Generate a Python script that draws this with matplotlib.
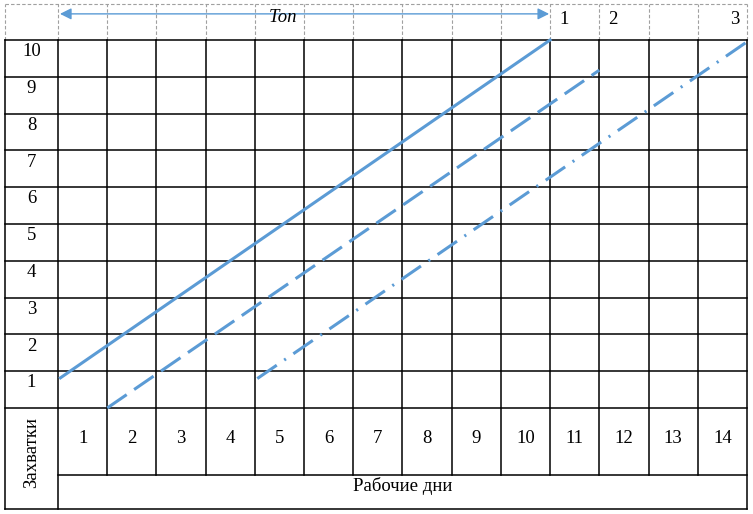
import matplotlib.pyplot as plt

# Data: grid of rows (захватки) and working days, three flow lines
rows = list(range(1, 11))
days = list(range(1, 15))
top_labels = ['1', '2', '3']
top_label_x = [10.28, 11.28, 13.76]

line1_x = [0.05, 10.0]
line1_y = [0.82, 10.0]
line2_x = [1.0, 11.0]
line2_y = [0.0, 9.18]
line3_x = [4.05, 14.0]
line3_y = [0.80, 9.95]

blue = '#5B9BD5'
plt.rcParams['font.family'] = ['Liberation Serif', 'DejaVu Serif']
plt.rcParams['lines.scale_dashes'] = False

fig = plt.figure(figsize=(7.53, 5.14), dpi=100)
ax = fig.add_axes([0, 0, 1, 1])
ax.axis('off')

# pixel layout -> data units (1 day = 49.21 px, 1 row = 36.8 px)
cw, rh = 49.21, 36.8
ax.set_xlim(-58 / cw, (753 - 58) / cw)
ax.set_ylim(-(514 - 408) / rh, 408 / rh)

left = -53 / cw
top = 404 / rh
day_bot = -67 / rh
bottom = -101 / rh

kw = dict(color='black', lw=1.1, zorder=2)
# horizontal grid lines
for r in range(0, 11):
    ax.plot([left, 14], [r, r], **kw)
ax.plot([0, 14], [day_bot, day_bot], **kw)
ax.plot([left, 14], [bottom, bottom], **kw)
# vertical grid lines
for d in range(0, 15):
    y0 = bottom if d in (0, 14) else day_bot
    ax.plot([d, d], [y0, 10], **kw)
ax.plot([left, left], [bottom, 10], **kw)

# dashed header
hk = dict(color='#a0a0a0', lw=0.8, ls=(0, (2.5, 1.5)), zorder=1)
ax.plot([left, 14], [top, top], **hk)
for d in [left] + list(range(0, 15)):
    ax.plot([d, d], [10, top], **hk)

fs = 13.5
for r in rows:
    ax.text((left + 0) / 2, r - 0.32, str(r), ha='center', va='center', fontsize=fs)
for d in days:
    ax.text(d - 0.5, -0.82, str(d), ha='center', va='center', fontsize=fs)
ax.text(7.01, -2.12, 'Рабочие дни', ha='center', va='center', fontsize=fs)
ax.text((left + 0) / 2, -1.2, 'Захватки', ha='center', va='center',
        rotation=90, fontsize=fs)
for lab, x in zip(top_labels, top_label_x):
    ax.text(x, 10.57, lab, ha='center', va='center', fontsize=fs)

# Топ arrow
ax.annotate('', xy=(0.04, 10.71), xytext=(9.98, 10.71),
            arrowprops=dict(arrowstyle='<|-|>', color=blue, lw=1.0,
                            mutation_scale=17, shrinkA=0, shrinkB=0))
ax.text(4.57, 10.6, 'Топ', ha='center', va='center', fontsize=fs,
        style='italic')

# flow lines
ax.plot(line1_x, line1_y, color=blue, lw=2.2, zorder=3)
ax.plot(line2_x, line2_y, color=blue, lw=2.2, zorder=3,
        ls=(0, (17, 6.5)))
ax.plot(line3_x, line3_y, color=blue, lw=2.2, zorder=3,
        ls=(0, (17, 6.5, 1.5, 6.5)))

fig.savefig('out.png', dpi=100)
